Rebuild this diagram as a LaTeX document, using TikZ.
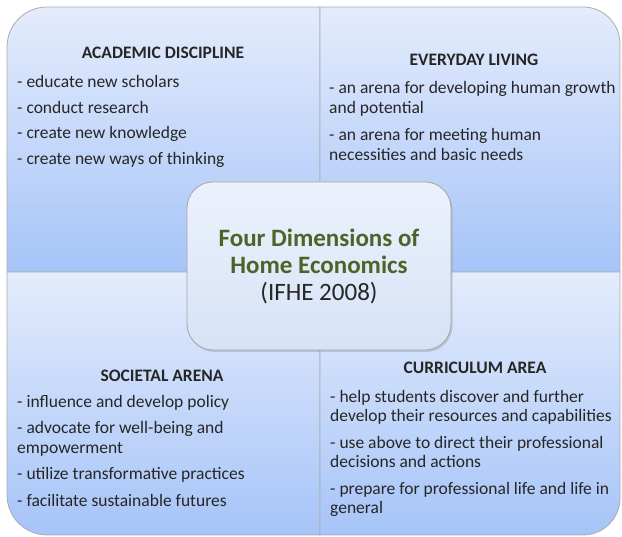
\documentclass[tikz,border=0pt]{standalone}
\usepackage{fontspec}
\setmainfont{Carlito}
\usetikzlibrary{positioning,shadows}

\definecolor{qtop}{RGB}{228,236,252}
\definecolor{qbot}{RGB}{166,196,248}
\definecolor{ctop}{RGB}{236,242,252}
\definecolor{cbot}{RGB}{214,226,246}
\definecolor{titlegreen}{RGB}{79,98,40}
\definecolor{txt}{RGB}{38,38,38}

\begin{document}
\begin{tikzpicture}[x=1pt, y=1pt,
                    quad/.style={draw=gray!65, line width=0.8pt, top color=qtop, bottom color=qbot},
                    centre/.style={draw=gray!70, line width=0.8pt, rounded corners=26pt, top color=ctop, bottom color=cbot,
                                   minimum width=264pt, minimum height=168pt, align=center,
                                   font=\fontsize{25}{27}\selectfont,
                                   drop shadow={opacity=0.3, shadow xshift=1.5pt, shadow yshift=-2pt}},
                    head/.style={font=\fontsize{17.5}{19.5}\selectfont\bfseries, text=txt, inner sep=0pt},
                    items/.style={font=\fontsize{17.5}{19.5}\selectfont, text=txt, align=left, anchor=north west, inner sep=0pt}]

\useasboundingbox (0,0) rectangle (622,537);

% four quadrants
\draw [quad] (7,265) -- (7,490) arc[start angle=180, end angle=90, radius=40] -- (320,530) -- (320,265) -- cycle;
\draw [quad] (320,265) -- (320,530) -- (583,530) arc[start angle=90, end angle=0, radius=37] -- (620,265) -- cycle;
\draw [quad] (7,265) -- (7,42) arc[start angle=180, end angle=270, radius=40] -- (320,2) -- (320,265) -- cycle;
\draw [quad] (320,265) -- (320,2) -- (583,2) arc[start angle=270, end angle=360, radius=37] -- (620,265) -- cycle;

% academic discipline
\node [head] (hdA) at (163,484) {ACADEMIC DISCIPLINE};
\node [items] (lstA) at (17,462) {- educate new scholars\\[6.3pt]
  - conduct research\\[6.3pt]
  - create new knowledge\\[6.3pt]
  - create new ways of thinking};

% everyday living
\node [head] (hdE) at (474,477) {EVERYDAY LIVING};
\node [items] (lstE) at (329,456) {- an arena for developing human growth\\[1pt]
  and potential\\[7pt]
  - an arena for meeting human\\[1pt]
  necessities and basic needs};

% societal arena
\node [head] (hdS) at (162,161) {SOCIETAL ARENA};
\node [items] (lstS) at (17,142) {- influence and develop policy\\[7pt]
  - advocate for well-being and\\
  empowerment\\[7pt]
  - utilize transformative practices\\[7pt]
  - facilitate sustainable futures};

% curriculum area
\node [head] (hdC) at (475,169) {CURRICULUM AREA};
\node [items] (lstC) at (330,147) {- help students discover and further\\
  develop their resources and capabilities\\[7pt]
  - use above to direct their professional\\
  decisions and actions\\[7pt]
  - prepare for professional life and life in\\
  general};

% centre
\node [centre] (core) at (319,271) {\textbf{\textcolor{titlegreen}{Four Dimensions of}}\\
  \textbf{\textcolor{titlegreen}{Home Economics}}\\
  \textcolor{txt}{(IFHE 2008)}};
\end{tikzpicture}
\end{document}
